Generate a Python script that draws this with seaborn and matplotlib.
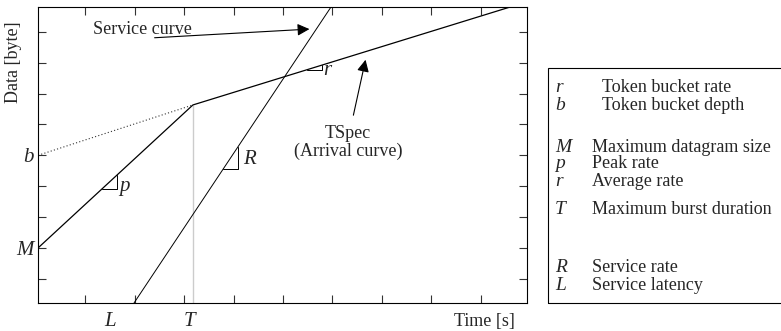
import matplotlib
matplotlib.use('Agg')
import matplotlib.pyplot as plt
import seaborn as sb
from matplotlib.patches import Rectangle

# curves (data units: ticks at integers)
tspec_x = [0.05, 3.18, 9.59]
tspec_y = [1.0, 5.63, 8.80]
service_x = [1.99, 5.97]
service_y = [-0.78, 8.80]
bucket_x = [0.05, 3.18]
bucket_y = [4.0, 5.63]
burst_x = [3.18, 3.18]
burst_y = [-0.78, 5.63]

y_ticks = list(range(0, 9))
y_tick_labels = ['', 'M', '', '', 'b', '', '', '', '']
x_ticks = list(range(1, 10))

legend_symbols = ['r', 'b', 'M', 'p', 'r', 'T', 'R', 'L']
legend_text = ['Token bucket rate', 'Token bucket depth', 'Maximum datagram size',
               'Peak rate', 'Average rate', 'Maximum burst duration',
               'Service rate', 'Service latency']
legend_rows_px = [88, 106, 147, 164, 181, 209, 268, 285]
legend_text_px = [602, 602, 592, 592, 592, 592, 592, 592]

sb.set_style('white')
plt.rcParams['font.family'] = ['Liberation Serif', 'DejaVu Serif']
FS = 13
FS_SYM = 15

W, H = 781, 331
fig = plt.figure(figsize=(W / 100, H / 100), dpi=100)
ax = fig.add_axes([38 / W, (H - 303) / H, (527 - 38) / W, (303 - 7) / H])

sb.lineplot(x=tspec_x, y=tspec_y, color='black', lw=0.9, ax=ax, sort=False)
sb.lineplot(x=service_x, y=service_y, color='black', lw=0.7, ax=ax, sort=False)
sb.lineplot(x=bucket_x, y=bucket_y, color='#333333', lw=0.8, ls=(0, (1, 2)), ax=ax, sort=False)
sb.lineplot(x=burst_x, y=burst_y, color='black', lw=0.7, ls=(0, (1, 2.5)), ax=ax, sort=False)

ax.set_xlim(0.05, 9.93)
ax.set_ylim(-0.78, 8.80)
ax.set_xticks(x_ticks)
ax.set_xticklabels([])
ax.set_yticks(y_ticks)
ax.set_yticklabels(y_tick_labels, fontsize=FS_SYM, style='italic')
ax.tick_params(direction='in', length=6, width=0.8, top=True, right=True,
               bottom=True, left=True, color='#333333', pad=3)
for s in ax.spines.values():
    s.set_linewidth(0.8)
    s.set_color('black')


def slope_triangle(xs, ys, x0, w):
    k = (ys[1] - ys[0]) / (xs[1] - xs[0])
    y0 = ys[0] + k * (x0 - xs[0])
    ax.plot([x0, x0 + w, x0 + w], [y0, y0, y0 + k * w], color='black', lw=0.7)


slope_triangle(tspec_x[:2], tspec_y[:2], 1.34, 0.30)
slope_triangle(service_x, service_y, 3.79, 0.30)
slope_triangle(tspec_x[1:], tspec_y[1:], 5.48, 0.30)

ax.text(1.70, 3.0, 'p', fontsize=FS_SYM, style='italic', va='center')
ax.text(4.20, 3.85, 'R', fontsize=FS_SYM, style='italic', va='center')
ax.text(5.82, 6.76, 'r', fontsize=FS_SYM, style='italic', va='center')

ax.text(1.5, -1.39, 'L', fontsize=FS_SYM, style='italic', ha='center', va='center', clip_on=False)
ax.text(3.12, -1.39, 'T', fontsize=FS_SYM, style='italic', ha='center', va='center', clip_on=False)

ax.text(1.16, 8.06, 'Service curve', fontsize=FS, va='center')
ax.annotate('', xy=(5.59, 8.09), xytext=(2.35, 7.80),
            arrowprops=dict(arrowstyle='-|>', color='black', lw=0.8, mutation_scale=18))
ax.text(6.31, 4.42, 'TSpec\n(Arrival curve)', fontsize=FS, ha='center', va='center',
        multialignment='center', linespacing=1.1)
ax.annotate('', xy=(6.68, 7.18), xytext=(6.41, 5.21),
            arrowprops=dict(arrowstyle='-|>', color='black', lw=0.8, mutation_scale=18))

ax.set_xlabel('Time [s]', fontsize=FS, loc='right')
ax.xaxis.set_label_coords(0.975, -0.035)
ax.set_ylabel('Data [byte]', fontsize=FS, loc='top')
ax.yaxis.set_label_coords(-0.033, 0.95)

# legend box on the right
fig.patches.append(Rectangle((548 / W, (H - 303) / H), 300 / W, (303 - 68) / H,
                             transform=fig.transFigure, fill=False, lw=0.8,
                             edgecolor='black', clip_on=False))
for sym, desc, py, tx in zip(legend_symbols, legend_text, legend_rows_px, legend_text_px):
    fig.text(555 / W, (H - py) / H, sym, fontsize=14, style='italic', va='center')
    fig.text(tx / W, (H - py) / H, desc, fontsize=FS, va='center')

fig.savefig('out.png', dpi=100)
